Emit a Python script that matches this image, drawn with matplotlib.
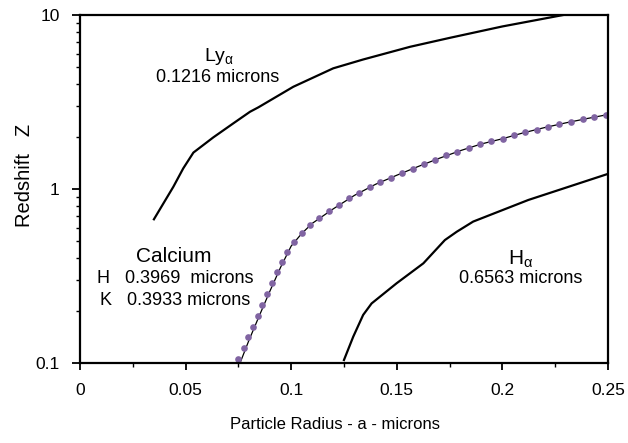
import matplotlib
matplotlib.use("Agg")
import matplotlib.pyplot as plt
from matplotlib.ticker import LogLocator, NullFormatter, FixedLocator

plt.rcParams['font.family'] = ['Liberation Sans', 'DejaVu Sans']

# Ly alpha curve (0.1216 microns)
ly_x = [0.035, 0.0442, 0.0489, 0.0537, 0.0631, 0.0726, 0.0805, 0.0845, 0.101,
        0.1199, 0.1340, 0.1563, 0.1752, 0.20, 0.2287]
ly_z = [0.67, 1.03, 1.315, 1.62, 1.98, 2.385, 2.78, 2.95, 3.87,
        4.94, 5.55, 6.57, 7.4, 8.6, 10.0]

# Calcium H/K curve (line)
ca_x = [0.0758, 0.08, 0.085, 0.09, 0.095, 0.10, 0.105, 0.11, 0.12, 0.13, 0.14,
        0.15, 0.16, 0.17, 0.18, 0.19, 0.20, 0.21, 0.22, 0.23, 0.24, 0.25]
ca_z = [0.10, 0.135, 0.188, 0.26, 0.355, 0.47, 0.555, 0.635, 0.77, 0.92, 1.065,
        1.20, 1.345, 1.50, 1.66, 1.815, 1.945, 2.105, 2.255, 2.40, 2.54, 2.68]

# Calcium dotted series
dot_x = [0.0750, 0.0777, 0.0797, 0.0821, 0.0841, 0.0863, 0.0884, 0.0908, 0.0931,
         0.0956, 0.0982, 0.1013, 0.1050, 0.1089, 0.1133, 0.1180, 0.1228, 0.1275,
         0.1323, 0.1373, 0.1422, 0.1474, 0.1526, 0.1578, 0.1630, 0.1681, 0.1733,
         0.1786, 0.1840, 0.1894, 0.1947, 0.2001, 0.2055, 0.2108, 0.2162, 0.2216,
         0.2269, 0.2326, 0.2380, 0.2434, 0.2491]
dot_z = [0.105, 0.1215, 0.1406, 0.162, 0.187, 0.216, 0.249, 0.287, 0.332,
         0.380, 0.436, 0.496, 0.561, 0.621, 0.681, 0.748, 0.806, 0.884,
         0.952, 1.027, 1.097, 1.162, 1.236, 1.309, 1.392, 1.474, 1.561,
         1.639, 1.728, 1.806, 1.879, 1.946, 2.034, 2.117, 2.193, 2.281,
         2.355, 2.437, 2.518, 2.594, 2.673]

# H alpha curve (0.6563 microns)
ha_x = [0.125, 0.1294, 0.1341, 0.1381, 0.1499, 0.1626, 0.1728, 0.1784, 0.1862,
        0.2123, 0.2494]
ha_z = [0.104, 0.1417, 0.189, 0.220, 0.287, 0.374, 0.509, 0.568, 0.65,
        0.865, 1.215]

x_ticks = [0, 0.05, 0.1, 0.15, 0.2, 0.25]
x_labels = ['0', '0.05', '0.1', '0.15', '0.2', '0.25']
y_ticks = [0.1, 1, 10]
y_labels = ['0.1', '1', '10']

fig = plt.figure(figsize=(6.28, 4.43), dpi=100)
ax = fig.add_axes([0.1274, 0.1806, 0.8406, 0.7854])

ax.plot(ly_x, ly_z, color='black', lw=1.6)
ax.plot(ca_x, ca_z, color='black', lw=0.9)
ax.plot(dot_x, dot_z, 'o', color='#8064A2', ms=4.8, mec='none')
ax.plot(ha_x, ha_z, color='black', lw=1.6)

ax.set_yscale('log')
ax.set_xlim(0, 0.25)
ax.set_ylim(0.1, 10)

ax.xaxis.set_major_locator(FixedLocator(x_ticks))
ax.xaxis.set_minor_locator(FixedLocator([0.025, 0.075, 0.125, 0.175, 0.225]))
ax.set_xticklabels(x_labels)
ax.yaxis.set_major_locator(FixedLocator(y_ticks))
ax.yaxis.set_minor_locator(LogLocator(base=10, subs=range(2, 10)))
ax.yaxis.set_minor_formatter(NullFormatter())
ax.set_yticklabels(y_labels)

ax.tick_params(which='major', direction='out', length=5, width=1.3, labelsize=12.5)
ax.tick_params(which='minor', direction='out', length=3, width=1.0)
ax.tick_params(axis='x', which='major', pad=9.5)
ax.tick_params(axis='y', which='major', length=6, pad=8.5)
for s in ax.spines.values():
    s.set_linewidth(1.6)

ax.set_xlabel('Particle Radius - a - microns', fontsize=12)
ax.xaxis.set_label_coords(0.483, -0.155)
ax.set_ylabel('Redshift   Z', fontsize=14.5)
ax.yaxis.set_label_coords(-0.088, 0.54)

ax.text(0.0657, 5.75, r'$\mathregular{Ly_{α}}$', fontsize=14, ha='center', va='center')
ax.text(0.0653, 4.4, '0.1216 microns', fontsize=13, ha='center', va='center')
ax.text(0.0445, 0.412, 'Calcium', fontsize=15, ha='center', va='center')
ax.text(0.0450, 0.308, 'H   0.3969  microns', fontsize=13, ha='center', va='center')
ax.text(0.0450, 0.230, 'K   0.3933 microns', fontsize=13, ha='center', va='center')
ax.text(0.2085, 0.396, r'$\mathregular{H_{α}}$', fontsize=15, ha='center', va='center')
ax.text(0.2087, 0.304, '0.6563 microns', fontsize=13, ha='center', va='center')

fig.savefig('out.png', dpi=100)
